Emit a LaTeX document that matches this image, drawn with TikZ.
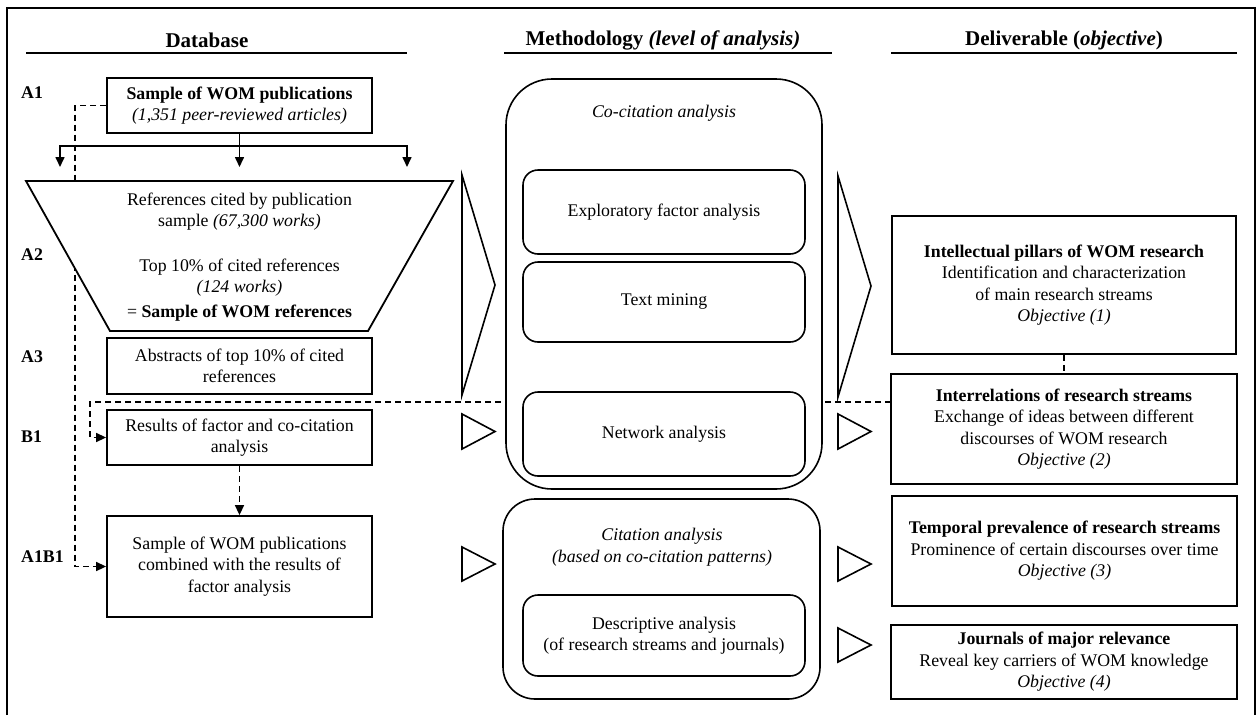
\documentclass[tikz,border=0pt]{standalone}
\usepackage{fontspec}
\setmainfont{Liberation Serif}
\usetikzlibrary{arrows.meta,calc}
\tikzset{
 base/.style={font=\fontsize{17.8}{21.5}\selectfont, align=center, inner sep=0pt},
 box/.style={base, draw, line width=1.8pt, fill=white},
 rbox/.style={box, line width=1.6pt, rounded corners=15pt},
 lbl/.style={inner sep=0pt, font=\fontsize{17.8}{21.5}\selectfont\bfseries, anchor=west},
 hdr/.style={inner sep=0pt, font=\fontsize{21}{25}\selectfont\bfseries},
 dsh/.style={line width=1.5pt, dash pattern=on 6pt off 4pt},
 tip/.style={-{Triangle[length=10pt,width=9pt]}},
 conn/.style={line width=1.6pt},
 trist/.style={line width=1.6pt, fill=white, line join=miter},
}
\begin{document}
\begin{tikzpicture}[x=1pt,y=-1pt]
\useasboundingbox (0,0) rectangle (1257,715);
% frame
\draw[line width=2pt] (7,715) -- (7,7.5) -- (1255,7.5) -- (1255,715);
% headers
\node[hdr] (hdb) at (207,40) {Database};
\draw[conn] (26,53) -- (407,53);
\node[hdr] (hme) at (663,40) {Methodology \textit{(level of analysis)}};
\draw[conn] (504,53) -- (832,53);
\node[hdr] (hde) at (1064,40) {Deliverable (\textit{objective})};
\draw[conn] (891,53) -- (1237,53);
% row labels
\node[lbl] (la1) at (21,93) {A1};
\node[lbl] (la2) at (21,255) {A2};
\node[lbl] (la3) at (21,357) {A3};
\node[lbl] (lb1) at (21,437) {B1};
\node[lbl] (la1b1) at (21,557) {A1B1};
% database boxes
\node[box, minimum width=265pt, minimum height=55pt] (a1) at (239.5,105.5)
  {\textbf{Sample of WOM publications}\\\textit{(1,351 peer-reviewed articles)}};
\node[box, minimum width=265pt, minimum height=56pt] (a3) at (239.5,366)
  {Abstracts of top 10\% of cited\\references};
\node[box, minimum width=265pt, minimum height=55pt] (b1) at (239.5,437.5)
  {Results of factor and co-citation\\analysis};
\node[box, minimum width=265pt, minimum height=101pt] (a1b1) at (239.5,566.5)
  {Sample of WOM publications\\combined with the results of\\factor analysis};
% deliverable boxes
\node[box, minimum width=344pt, minimum height=138pt] (intel) at (1064,285)
  {\textbf{Intellectual pillars of WOM research}\\Identification and characterization\\of main research streams\\\textit{Objective (1)}};
\node[box, minimum width=346pt, minimum height=110pt] (inter) at (1064,429)
  {\textbf{Interrelations of research streams}\\Exchange of ideas between different\\discourses of WOM research\\\textit{Objective (2)}};
\node[box, minimum width=345pt, minimum height=110pt] (temp) at (1064.5,551)
  {\textbf{Temporal prevalence of research streams}\\Prominence of certain discourses over time\\\textit{Objective (3)}};
\node[box, minimum width=346pt, minimum height=74pt] (jour) at (1064,662)
  {\textbf{Journals of major relevance}\\Reveal key carriers of WOM knowledge\\\textit{Objective (4)}};
% dashed connectors behind shapes
\draw[dsh,tip] (a1.west) -- ++(-31,0) |- (a1b1.west);
\coordinate (irx) at (891,402);
\draw[dsh,tip] (irx) -- (90,402) |- (b1.west);
% funnel
\draw[line width=1.8pt, fill=white, line join=miter] (26,181) -- (453,181) -- (368,331) -- (110,331) -- cycle;
\node[base] (fun) at (239.5,257)
  {References cited by publication\\sample \textit{(67,300 works)}\\[23pt]
   Top 10\% of cited references\\\textit{(124 works)}\\[3.5pt]
   = \textbf{Sample of WOM references}};
% methodology
\node[box, line width=1.6pt, rounded corners=46pt, minimum width=316pt, minimum height=410pt] (cocit) at (664,284) {};
\node[base] (cct) at (664,113) {\textit{Co-citation analysis}};
\node[rbox, minimum width=282pt, minimum height=84pt] (efa) at (664,212) {Exploratory factor analysis};
\node[rbox, minimum width=282pt, minimum height=80pt] (tm) at (664,302) {Text mining};
\node[rbox, minimum width=282pt, minimum height=84pt] (na) at (664,434) {Network analysis};
\node[box, line width=1.6pt, rounded corners=32pt, minimum width=317pt, minimum height=200pt] (cit) at (661.5,599) {};
\node[base] (citt) at (662,547) {\textit{Citation analysis}\\\textit{(based on co-citation patterns)}};
\node[rbox, minimum width=282pt, minimum height=81pt] (da) at (664,635.5)
  {Descriptive analysis\\(of research streams and journals)};
% triangles
\draw[trist] (462,175) -- (495,285) -- (462,395) -- cycle;
\draw[trist] (838,176) -- (871,286) -- (838,397) -- cycle;
\draw[trist] (462,414) -- (495,431.5) -- (462,449) -- cycle;
\draw[trist] (462,547) -- (495,564) -- (462,581) -- cycle;
\draw[trist] (838,414) -- (871,431.5) -- (838,449) -- cycle;
\draw[trist] (838,547) -- (871,564) -- (838,581) -- cycle;
\draw[trist] (838,628) -- (871,645) -- (838,662) -- cycle;
% solid split arrows
\coordinate (sp) at (239.5,146);
\coordinate (tL) at (60,167);
\coordinate (tM) at (239.5,167);
\coordinate (tR) at (407,167);
\draw[conn,tip] (a1.south) -- (tM);
\draw[conn,tip] (sp) -| (tL);
\draw[conn,tip] (sp) -| (tR);
% other dashed connectors
\draw[dsh,tip] (b1.south) -- (a1b1.north);
\draw[dsh] (intel.south) -- (inter.north);
\end{tikzpicture}
\end{document}
